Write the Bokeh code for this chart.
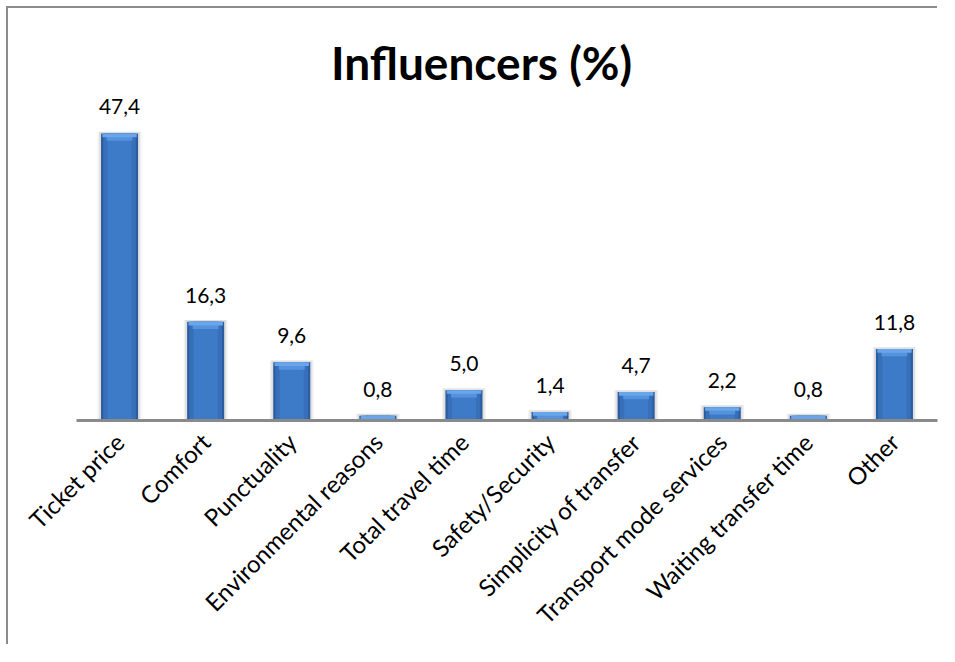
from bokeh.plotting import figure
from bokeh.models import ColumnDataSource, LabelSet, Label, Range1d
from bokeh.embed import file_html
from bokeh.resources import INLINE
from bokeh.core.properties import value
import math

categories = ["Ticket price", "Comfort", "Punctuality", "Environmental reasons",
              "Total travel time", "Safety/Security", "Simplicity of transfer",
              "Transport mode services", "Waiting transfer time", "Other"]
values = [47.4, 16.3, 9.6, 0.8, 5.0, 1.4, 4.7, 2.2, 0.8, 11.8]
labels = [f"{v:.1f}".replace(".", ",") for v in values]
title_text = "Influencers (%)"

FONT = "Lato"

# style offsets (data units), derived from value for bevel shading
bevel1 = [min(v, 0.6) for v in values]
bevel2 = [min(v, 1.2) for v in values]

src = ColumnDataSource(dict(
    cat=categories, val=values, lab=labels,
    shadow_top=[v + 0.3 for v in values],
    b1=[v - b for v, b in zip(values, bevel1)],
    b2=[v - b for v, b in zip(values, bevel2)],
))

p = figure(x_range=categories, y_range=Range1d(0, max(values) * 1.4355),
           width=931, height=638, output_backend="svg", toolbar_location=None,
           min_border_left=68, min_border_right=2, min_border_top=0,
           min_border_bottom=226)
p.margin = (8, 0, 0, 8)
p.styles = {"box-shadow": "-2px -2px 0 0 #8c8c8c"}
p.outline_line_color = None
p.grid.visible = False
p.yaxis.visible = False
p.background_fill_color = "white"
p.border_fill_color = "white"

# soft shadow
p.vbar(x="cat", top="shadow_top", bottom=0, width=0.51, source=src,
       fill_color="#000000", fill_alpha=0.05, line_color=None)
p.vbar(x="cat", top="shadow_top", bottom=0, width=0.475, source=src,
       fill_color="#000000", fill_alpha=0.08, line_color=None)
# bar body: darker edges, lighter inside
p.vbar(x="cat", top="val", bottom=0, width=0.43, source=src,
       fill_color="#2A5C9F", line_color=None)
p.vbar(x="cat", top="val", bottom=0, width=0.38, source=src,
       fill_color="#376FB8", line_color=None)
p.vbar(x="cat", top="val", bottom=0, width=0.28, source=src,
       fill_color="#3D7AC7", line_color=None)
# top bevel highlight (trapezoid-ish)
p.vbar(x="cat", top="val", bottom="b2", width=0.30, source=src,
       fill_color="#5593DC", line_color=None)
p.vbar(x="cat", top="val", bottom="b1", width=0.40, source=src,
       fill_color="#69A5EA", line_color=None)

# value labels
p.add_layout(LabelSet(x="cat", y="val", text="lab", source=src,
                      text_align="center", text_baseline="alphabetic",
                      y_offset=19, text_font=value(FONT),
                      text_font_size=value("21px"), text_color="#000000"))

# title
p.add_layout(Label(x=405, y=358, x_units="screen", y_units="screen",
                   text=title_text, text_align="center", text_baseline="middle",
                   text_font=FONT, text_font_style="bold",
                   text_font_size="46px", text_color="#000000"))

ax = p.xaxis[0]
ax.axis_line_color = "#8a8a8a"
ax.axis_line_width = 3
ax.major_tick_line_color = None
ax.minor_tick_line_color = None
ax.major_label_orientation = math.pi / 4
ax.major_label_standoff = 11
ax.major_label_text_font = FONT
ax.major_label_text_font_size = "24px"
ax.major_label_text_color = "#000000"

open("out.html", "w").write(file_html(p, INLINE))
